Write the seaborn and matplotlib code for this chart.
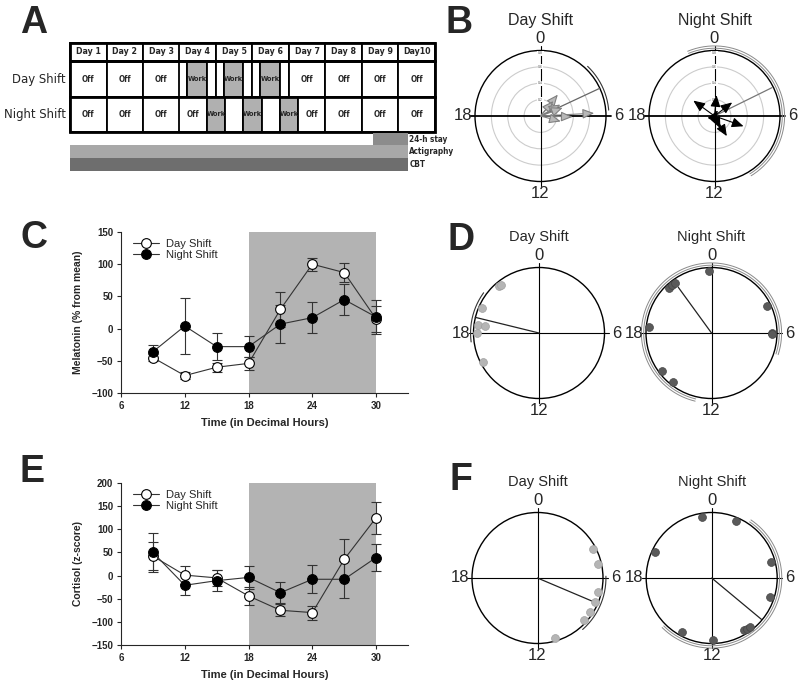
import numpy as np
import matplotlib
matplotlib.use('Agg')
import matplotlib.pyplot as plt
import seaborn as sns
from matplotlib import font_manager
from matplotlib.patches import Rectangle, Circle

sns.set_style("ticks")
plt.rcParams['font.family'] = ['Liberation Sans', 'DejaVu Sans']

# pick a narrow face if one is installed, otherwise shrink the normal one
_fonts = font_manager.fontManager.ttflist
if any(f.name == 'Liberation Sans Narrow' for f in _fonts):
    NARROW = dict(family='Liberation Sans Narrow')
    NSCALE = 1.0
elif any(f.name == 'DejaVu Sans' and 'condensed' in str(f.stretch) for f in _fonts):
    NARROW = dict(family='DejaVu Sans', stretch='condensed')
    NSCALE = 0.9
else:
    NARROW = dict(family='Liberation Sans')
    NSCALE = 0.82

# ---- Panel A: study protocol ----
days = ['Day 1', 'Day 2', 'Day 3', 'Day 4', 'Day 5', 'Day 6', 'Day 7', 'Day 8', 'Day 9', 'Day10']
work_days = [4, 5, 6]
day_shift_hours = (5, 18)
night_shift_hours = (18, 30)
protocol_labels = ['24-h stay', 'Actigraphy', 'CBT']
protocol_start = [8.3, 0.0, 0.0]   # in days
protocol_end = [9.25, 9.25, 9.25]

# ---- Panels C and E: hormone profiles ----
sample_times = [9, 12, 15, 18, 21, 24, 27, 30]
dark_period = (18, 30)
mel_day = [-45, -73, -60, -54, 30, 100, 87, 15]
mel_day_err = [5, 5, 7, 10, 27, 10, 15, 20]
mel_night = [-36, 4, -28, -28, 7, 17, 45, 18]
mel_night_err = [10, 43, 21, 16, 29, 24, 24, 26]
cort_day = [42, 1, -5, -44, -75, -80, 35, 125]
cort_day_err = [30, 19, 18, 20, 13, 15, 45, 35]
cort_night = [50, -21, -11, -4, -37, -8, -8, 39]
cort_night_err = [43, 22, 23, 24, 23, 30, 40, 30]

# ---- Panel B: CBT phase vectors (clock hour, vector length) ----
b_day_hours = [2.6, 2.7, 4.0, 4.65, 5.8, 6.1, 7.0]
b_day_len = [0.42, 0.30, 0.35, 0.36, 0.82, 0.49, 0.32]
b_day_mean = (4.33, 0.99)
b_day_ci = (2.9, 5.67)
b_night_hours = [20.4, 0.37, 3.5, 7.3, 9.9, 10.3, 2.0]
b_night_len = [0.40, 0.32, 0.34, 0.47, 0.36, 0.21, 0.10]
b_night_mean = (4.25, 0.98)
b_night_ci = (22.5, 33.9)

# ---- Panel D: melatonin acrophases ----
d_day_hours = [21.3, 21.44, 19.6, 18.47, 18.46, 18.0, 16.2]
d_day_r = [0.94, 0.93, 0.95, 0.94, 0.83, 0.94, 0.96]
d_day_mean = (18.92, 1.0)
d_day_ci = (17.5, 20.4)
d_night_hours = [23.84, 21.11, 21.36, 21.57, 4.3, 6.0, 6.05, 18.34, 15.5, 14.55]
d_night_r = [0.95, 0.95, 0.95, 0.95, 0.94, 0.93, 0.93, 0.96, 0.95, 0.95]
d_night_mean = (21.6, 0.86)
d_night_ci = (12.9, 31.2)

# ---- Panel F: cortisol acrophases ----
f_day_hours = [4.15, 5.13, 6.87, 7.48, 8.19, 8.79, 10.9]
f_day_r = [0.95, 0.95, 0.95, 0.95, 0.95, 0.95, 0.95]
f_day_mean = (7.53, 0.99)
f_day_ci = (5.9, 9.25)
f_night_hours = [23.4, 1.53, 5.0, 7.2, 9.9, 9.7, 9.47, 11.9, 13.9, 19.66]
f_night_r = [0.95, 0.95, 0.94, 0.94, 0.93, 0.94, 0.95, 0.94, 0.94, 0.96]
f_night_mean = (8.65, 0.99)
f_night_ci = (2.27, 15.0)

W, H = 800, 681
fig = plt.figure(figsize=(W / 100, H / 100), dpi=100)


def px_rect(left, top, right, bottom):
    return [left / W, 1 - bottom / H, (right - left) / W, (bottom - top) / H]


def ftext(x, y, s, **kw):
    fig.text(x / W, 1 - y / H, s, **kw)


def hxy(h, r):
    th = np.asarray(h, dtype=float) / 24 * 2 * np.pi
    return np.asarray(r) * np.sin(th), np.asarray(r) * np.cos(th)


# panel letters
for (x, y, s) in [(20, 33, 'A'), (446, 33, 'B'), (20, 248, 'C'),
                  (447, 250, 'D'), (20, 482, 'E'), (450, 490, 'F')]:
    ftext(x, y, s, fontsize=27, fontweight='bold', va='baseline')

# ================= Panel A =================
axA = fig.add_axes(px_rect(70, 43, 435, 171))
axA.set_xlim(0, 10)
axA.set_ylim(128, 0)
axA.axis('off')


def row_segments(hours):
    starts = [round(d - 1 + hours[0] / 24, 6) for d in work_days]
    ends = [round(d - 1 + hours[1] / 24, 6) for d in work_days]
    work = list(zip(starts, ends))
    bounds = set(starts + ends)
    for i in range(11):
        if not any(s < i < e for s, e in work):
            bounds.add(i)
    bounds = sorted(bounds)
    segs = []
    for a, b in zip(bounds[:-1], bounds[1:]):
        is_work = any(s <= a and b <= e for s, e in work)
        lab = 'Work' if is_work else ('Off' if b - a > 0.5 else '')
        segs.append((a, b, lab))
    return segs


# header
for i, d in enumerate(days):
    axA.add_patch(Rectangle((i, 0), 1, 18, fc='white', ec='black', lw=1.3, clip_on=False))
    axA.text(i + 0.5, 9, d, ha='center', va='center', fontsize=7 * NSCALE,
             fontweight='bold', **NARROW)

for (y0, y1, hours, name) in [(18, 54, day_shift_hours, 'Day Shift'),
                              (54, 89, night_shift_hours, 'Night Shift')]:
    for a, b, lab in row_segments(hours):
        fc = '#b0b0b0' if lab == 'Work' else 'white'
        axA.add_patch(Rectangle((a, y0), b - a, y1 - y0, fc=fc, ec='black', lw=1.3, clip_on=False))
        if lab:
            size = 5.8 if lab == 'Work' else 6.4
            axA.text((a + b) / 2, (y0 + y1) / 2, lab, ha='center', va='center',
                     fontsize=size * NSCALE, fontweight='bold', **NARROW)
    axA.add_patch(Rectangle((0, y0), 10, y1 - y0, fill=False, ec='black', lw=2, clip_on=False))
    axA.text(-0.12, (y0 + y1) / 2, name, ha='right', va='center',
             fontsize=10.4 * NSCALE, **NARROW)
axA.add_patch(Rectangle((0, 0), 10, 18, fill=False, ec='black', lw=2, clip_on=False))

bar_colors = ['#8c8c8c', '#a8a8a8', '#6e6e6e']
bar_rows = [(90, 102), (102, 115), (115, 128)]
for lab, s, e, c, (y0, y1) in zip(protocol_labels, protocol_start, protocol_end, bar_colors, bar_rows):
    axA.add_patch(Rectangle((s, y0), e - s, y1 - y0, fc=c, ec='none', clip_on=False))
    axA.text(e + 0.05, (y0 + y1) / 2, lab, ha='left', va='center', fontsize=6.5 * NSCALE,
             fontweight='bold', **NARROW)


# ================= Panels C and E =================
def profile(rect, day, day_err, night, night_err, ylim, yticks, ylabel):
    ax = fig.add_axes(px_rect(*rect))
    ax.axvspan(*dark_period, color='#b3b3b3', lw=0, zorder=0)
    for vals, errs in [(day, day_err), (night, night_err)]:
        ax.errorbar(sample_times, vals, yerr=errs, fmt='none', ecolor='#333333',
                    elinewidth=0.8, capsize=3.5, capthick=0.8, zorder=2)
    sns.lineplot(x=sample_times, y=day, ax=ax, color='#333333', lw=0.8, marker='o',
                 markersize=7, markerfacecolor='white', markeredgecolor='black',
                 markeredgewidth=0.8, label='Day Shift', zorder=3)
    sns.lineplot(x=sample_times, y=night, ax=ax, color='#333333', lw=0.8, marker='o',
                 markersize=7, markerfacecolor='black', markeredgecolor='black',
                 markeredgewidth=0.8, label='Night Shift', zorder=4)
    ax.set_xlim(6, 33)
    ax.set_ylim(*ylim)
    ax.set_xticks([6, 12, 18, 24, 30])
    ax.set_yticks(yticks)
    sns.despine(ax=ax)
    for sp in ['left', 'bottom']:
        ax.spines[sp].set_linewidth(0.8)
    ax.tick_params(axis='both', length=3, width=0.8, pad=2.5, labelsize=7)
    for t in ax.get_xticklabels() + ax.get_yticklabels():
        t.set_fontweight('bold')
    ax.set_xlabel('Time (in Decimal Hours)', fontsize=8, fontweight='bold', labelpad=5)
    ax.set_ylabel(ylabel, fontsize=7.5, fontweight='bold', labelpad=6)
    ax.legend(loc='upper left', bbox_to_anchor=(0.02, 1.0), frameon=False, fontsize=8,
              handlelength=2.3, handletextpad=0.6, labelspacing=0.1, borderaxespad=0.2)
    return ax


profile((121, 232, 408, 393), mel_day, mel_day_err, mel_night, mel_night_err,
        (-100, 150), list(range(-100, 151, 50)), 'Melatonin (% from mean)')
profile((121, 483, 408, 645), cort_day, cort_day_err, cort_night, cort_night_err,
        (-150, 200), list(range(-150, 201, 50)), 'Cortisol (z-score)')


# ================= Clock panels =================
def clock(cx, cy, title, R=65.5, title_size=10.5, rings=False):
    h = 1.3 * R
    ax = fig.add_axes(px_rect(cx - h, cy - h, cx + h, cy + h))
    ax.set_xlim(-1.3, 1.3)
    ax.set_ylim(-1.3, 1.3)
    ax.axis('off')
    if rings:
        for r in [0.25, 0.5, 0.75]:
            ax.add_patch(Circle((0, 0), r, fill=False, ec='#cccccc', lw=0.8))
    ax.add_patch(Circle((0, 0), 1, fill=False, ec='black', lw=1.0))
    ax.plot([-1.07, 1.07], [0, 0], color='black', lw=1.3 if rings else 0.8)
    ax.plot([0, 0], [-1.07, 1.07], color='black', lw=0.8)
    if rings:
        for r, s in zip([0.25, 0.5, 0.75, 0.96], ['0.2', '0.4', '0.6', '0.8']):
            ax.text(0, r, s, fontsize=2.5, ha='center', va='center', color='#555555',
                    bbox=dict(fc='white', ec='none', pad=0.4))
    fs = 12
    ax.text(0, 1.19, '0', ha='center', va='center', fontsize=fs)
    ax.text(1.19, 0, '6', ha='center', va='center', fontsize=fs)
    ax.text(0, -1.19, '12', ha='center', va='center', fontsize=fs)
    ax.text(-1.19, 0, '18', ha='center', va='center', fontsize=fs)
    ax.text(0, 1.46, title, ha='center', va='center', fontsize=title_size)
    return ax


def arc(ax, ci, double):
    hs = np.linspace(ci[0], ci[1], 200)
    if double:
        for r in [1.035, 1.07]:
            x, y = hxy(hs, r)
            ax.plot(x, y, color='#8a8a8a', lw=0.7)
    else:
        x, y = hxy(hs, 1.045)
        ax.plot(x, y, color='#333333', lw=0.8)


def mean_line(ax, mean, color):
    x, y = hxy(mean[0], mean[1])
    ax.plot([0, x], [0, y], color=color, lw=0.9)


def arrows(ax, hours, lens, fc, ec):
    for h, r in zip(hours, lens):
        x, y = hxy(h, r)
        ax.annotate('', xy=(x, y), xytext=(0, 0),
                    arrowprops=dict(arrowstyle='-|>,head_length=0.7,head_width=0.3',
                                    fc=fc, ec=ec, lw=0.8, shrinkA=0, shrinkB=0,
                                    mutation_scale=10))


def dots(ax, hours, rs, color, edge):
    x, y = hxy(hours, rs)
    sns.scatterplot(x=x, y=y, ax=ax, s=32, color=color, edgecolor=edge,
                    linewidth=0.5, zorder=3, legend=False)


# B
ax = clock(540.5, 116, 'Day Shift', title_size=11.5, rings=True)
mean_line(ax, b_day_mean, '#666666')
arc(ax, b_day_ci, False)
arrows(ax, b_day_hours, b_day_len, '#b8b8b8', '#808080')
ax = clock(714.5, 116, 'Night Shift', title_size=11.5, rings=True)
mean_line(ax, b_night_mean, '#777777')
arc(ax, b_night_ci, True)
arrows(ax, b_night_hours, b_night_len, 'black', 'black')

# D
ax = clock(539, 333, 'Day Shift')
mean_line(ax, d_day_mean, '#222222')
arc(ax, d_day_ci, False)
dots(ax, d_day_hours, d_day_r, '#b5b5b5', '#a0a0a0')
ax = clock(711.5, 333, 'Night Shift')
mean_line(ax, d_night_mean, '#222222')
arc(ax, d_night_ci, True)
dots(ax, d_night_hours, d_night_r, '#5a5a5a', '#444444')

# F
ax = clock(537.5, 578, 'Day Shift')
mean_line(ax, f_day_mean, '#222222')
arc(ax, f_day_ci, False)
dots(ax, f_day_hours, f_day_r, '#b5b5b5', '#a0a0a0')
ax = clock(711.7, 578, 'Night Shift')
mean_line(ax, f_night_mean, '#222222')
arc(ax, f_night_ci, True)
dots(ax, f_night_hours, f_night_r, '#5a5a5a', '#444444')

fig.savefig('out.png', dpi=100)
